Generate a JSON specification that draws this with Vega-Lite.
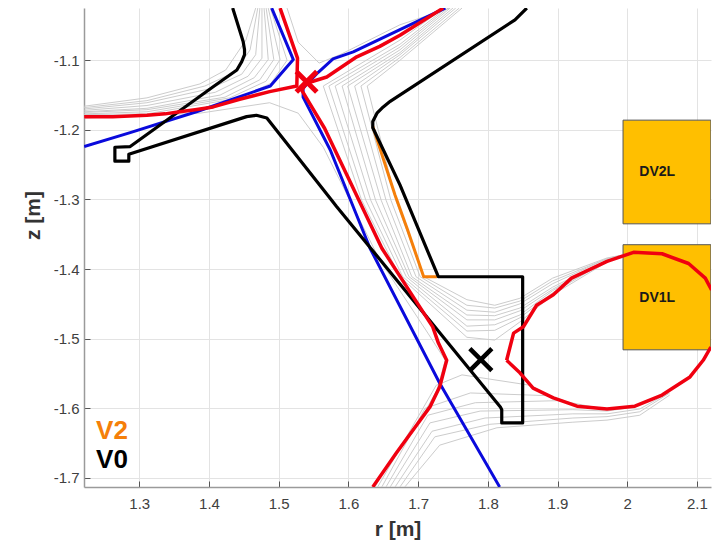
{"$schema":"https://vega.github.io/schema/vega-lite/v6.json","width":627,"height":479,"autosize":{"type":"none"},"padding":{"left":84,"top":8,"right":4,"bottom":57},"background":"white","config":{"view":{"stroke":null},"font":"Liberation Sans"},
"datasets":{
"coils":[{"name":"DV2L","r1":1.994,"r2":2.12,"z1":-1.186,"z2":-1.335,"rt":2.043,"zt":-1.26},{"name":"DV1L","r1":1.994,"r2":2.12,"z1":-1.365,"z2":-1.516,"rt":2.043,"zt":-1.442}],
"grey":[
{"s":"A1","i":1,"r":1.221,"z":-1.166},{"s":"A1","i":2,"r":1.311,"z":-1.154},{"s":"A1","i":3,"r":1.387,"z":-1.134},{"s":"A1","i":4,"r":1.424,"z":-1.114},{"s":"A1","i":5,"r":1.453,"z":-1.071},{"s":"A1","i":6,"r":1.467,"z":-1.025},
{"s":"A2","i":1,"r":1.221,"z":-1.168},{"s":"A2","i":2,"r":1.311,"z":-1.158},{"s":"A2","i":3,"r":1.394,"z":-1.137},{"s":"A2","i":4,"r":1.437,"z":-1.117},{"s":"A2","i":5,"r":1.459,"z":-1.085},{"s":"A2","i":6,"r":1.47,"z":-1.025},
{"s":"A3","i":1,"r":1.221,"z":-1.17},{"s":"A3","i":2,"r":1.311,"z":-1.161},{"s":"A3","i":3,"r":1.401,"z":-1.141},{"s":"A3","i":4,"r":1.447,"z":-1.12},{"s":"A3","i":5,"r":1.467,"z":-1.092},{"s":"A3","i":6,"r":1.473,"z":-1.025},
{"s":"A4","i":1,"r":1.221,"z":-1.172},{"s":"A4","i":2,"r":1.311,"z":-1.165},{"s":"A4","i":3,"r":1.409,"z":-1.146},{"s":"A4","i":4,"r":1.456,"z":-1.123},{"s":"A4","i":5,"r":1.476,"z":-1.097},{"s":"A4","i":6,"r":1.476,"z":-1.025},
{"s":"A5","i":1,"r":1.221,"z":-1.174},{"s":"A5","i":2,"r":1.311,"z":-1.169},{"s":"A5","i":3,"r":1.416,"z":-1.15},{"s":"A5","i":4,"r":1.465,"z":-1.125},{"s":"A5","i":5,"r":1.485,"z":-1.099},{"s":"A5","i":6,"r":1.479,"z":-1.025},
{"s":"A6","i":1,"r":1.221,"z":-1.175},{"s":"A6","i":2,"r":1.311,"z":-1.171},{"s":"A6","i":3,"r":1.423,"z":-1.153},{"s":"A6","i":4,"r":1.473,"z":-1.128},{"s":"A6","i":5,"r":1.493,"z":-1.099},{"s":"A6","i":6,"r":1.482,"z":-1.025},
{"s":"A7","i":1,"r":1.221,"z":-1.177},{"s":"A7","i":2,"r":1.311,"z":-1.174},{"s":"A7","i":3,"r":1.43,"z":-1.154},{"s":"A7","i":4,"r":1.482,"z":-1.13},{"s":"A7","i":5,"r":1.502,"z":-1.099},{"s":"A7","i":6,"r":1.485,"z":-1.025},
{"s":"A8","i":1,"r":1.221,"z":-1.178},{"s":"A8","i":2,"r":1.311,"z":-1.177},{"s":"A8","i":3,"r":1.444,"z":-1.154},{"s":"A8","i":4,"r":1.489,"z":-1.133},{"s":"A8","i":5,"r":1.512,"z":-1.1},{"s":"A8","i":6,"r":1.488,"z":-1.025},
{"s":"B1","i":1,"r":1.763,"z":-1.025},{"s":"B1","i":2,"r":1.674,"z":-1.1},{"s":"B1","i":3,"r":1.627,"z":-1.137},{"s":"B1","i":4,"r":1.668,"z":-1.301},{"s":"B1","i":5,"r":1.708,"z":-1.411},{"s":"B1","i":6,"r":1.77,"z":-1.444},{"s":"B1","i":7,"r":1.81,"z":-1.452},{"s":"B1","i":8,"r":1.846,"z":-1.442},{"s":"B1","i":9,"r":1.893,"z":-1.413},{"s":"B1","i":10,"r":1.971,"z":-1.384},{"s":"B1","i":11,"r":2.008,"z":-1.377},
{"s":"B2","i":1,"r":1.759,"z":-1.025},{"s":"B2","i":2,"r":1.674,"z":-1.096},{"s":"B2","i":3,"r":1.618,"z":-1.137},{"s":"B2","i":4,"r":1.661,"z":-1.301},{"s":"B2","i":5,"r":1.703,"z":-1.411},{"s":"B2","i":6,"r":1.77,"z":-1.452},{"s":"B2","i":7,"r":1.81,"z":-1.456},{"s":"B2","i":8,"r":1.846,"z":-1.446},{"s":"B2","i":9,"r":1.893,"z":-1.417},{"s":"B2","i":10,"r":1.971,"z":-1.385},{"s":"B2","i":11,"r":2.008,"z":-1.377},
{"s":"B3","i":1,"r":1.754,"z":-1.025},{"s":"B3","i":2,"r":1.674,"z":-1.092},{"s":"B3","i":3,"r":1.609,"z":-1.137},{"s":"B3","i":4,"r":1.654,"z":-1.301},{"s":"B3","i":5,"r":1.697,"z":-1.411},{"s":"B3","i":6,"r":1.77,"z":-1.459},{"s":"B3","i":7,"r":1.81,"z":-1.462},{"s":"B3","i":8,"r":1.846,"z":-1.45},{"s":"B3","i":9,"r":1.893,"z":-1.421},{"s":"B3","i":10,"r":1.971,"z":-1.385},{"s":"B3","i":11,"r":2.008,"z":-1.377},
{"s":"B4","i":1,"r":1.75,"z":-1.025},{"s":"B4","i":2,"r":1.674,"z":-1.089},{"s":"B4","i":3,"r":1.599,"z":-1.137},{"s":"B4","i":4,"r":1.647,"z":-1.301},{"s":"B4","i":5,"r":1.691,"z":-1.411},{"s":"B4","i":6,"r":1.77,"z":-1.466},{"s":"B4","i":7,"r":1.81,"z":-1.467},{"s":"B4","i":8,"r":1.846,"z":-1.456},{"s":"B4","i":9,"r":1.893,"z":-1.426},{"s":"B4","i":10,"r":1.971,"z":-1.387},{"s":"B4","i":11,"r":2.008,"z":-1.377},
{"s":"B5","i":1,"r":1.746,"z":-1.025},{"s":"B5","i":2,"r":1.674,"z":-1.085},{"s":"B5","i":3,"r":1.591,"z":-1.137},{"s":"B5","i":4,"r":1.639,"z":-1.301},{"s":"B5","i":5,"r":1.687,"z":-1.411},{"s":"B5","i":6,"r":1.77,"z":-1.473},{"s":"B5","i":7,"r":1.81,"z":-1.473},{"s":"B5","i":8,"r":1.846,"z":-1.46},{"s":"B5","i":9,"r":1.893,"z":-1.429},{"s":"B5","i":10,"r":1.971,"z":-1.387},{"s":"B5","i":11,"r":2.008,"z":-1.377},
{"s":"B6","i":1,"r":1.743,"z":-1.025},{"s":"B6","i":2,"r":1.674,"z":-1.081},{"s":"B6","i":3,"r":1.581,"z":-1.137},{"s":"B6","i":4,"r":1.632,"z":-1.301},{"s":"B6","i":5,"r":1.683,"z":-1.411},{"s":"B6","i":6,"r":1.77,"z":-1.482},{"s":"B6","i":7,"r":1.81,"z":-1.48},{"s":"B6","i":8,"r":1.846,"z":-1.466},{"s":"B6","i":9,"r":1.893,"z":-1.431},{"s":"B6","i":10,"r":1.971,"z":-1.388},{"s":"B6","i":11,"r":2.008,"z":-1.377},
{"s":"B7","i":1,"r":1.74,"z":-1.025},{"s":"B7","i":2,"r":1.674,"z":-1.077},{"s":"B7","i":3,"r":1.572,"z":-1.137},{"s":"B7","i":4,"r":1.625,"z":-1.301},{"s":"B7","i":5,"r":1.678,"z":-1.411},{"s":"B7","i":6,"r":1.77,"z":-1.489},{"s":"B7","i":7,"r":1.81,"z":-1.488},{"s":"B7","i":8,"r":1.846,"z":-1.47},{"s":"B7","i":9,"r":1.893,"z":-1.434},{"s":"B7","i":10,"r":1.971,"z":-1.388},{"s":"B7","i":11,"r":2.008,"z":-1.377},
{"s":"B8","i":1,"r":1.737,"z":-1.025},{"s":"B8","i":2,"r":1.674,"z":-1.071},{"s":"B8","i":3,"r":1.564,"z":-1.137},{"s":"B8","i":4,"r":1.619,"z":-1.301},{"s":"B8","i":5,"r":1.674,"z":-1.411},{"s":"B8","i":6,"r":1.77,"z":-1.498},{"s":"B8","i":7,"r":1.81,"z":-1.502},{"s":"B8","i":8,"r":1.846,"z":-1.476},{"s":"B8","i":9,"r":1.893,"z":-1.437},{"s":"B8","i":10,"r":1.971,"z":-1.39},{"s":"B8","i":11,"r":2.008,"z":-1.377},
{"s":"C7","i":1,"r":1.681,"z":-1.713},{"s":"C7","i":2,"r":1.731,"z":-1.653},{"s":"C7","i":3,"r":1.813,"z":-1.628},{"s":"C7","i":4,"r":1.922,"z":-1.62},{"s":"C7","i":5,"r":1.971,"z":-1.617},{"s":"C7","i":6,"r":2.018,"z":-1.61},{"s":"C7","i":7,"r":2.061,"z":-1.581},
{"s":"C6","i":1,"r":1.674,"z":-1.713},{"s":"C6","i":2,"r":1.724,"z":-1.641},{"s":"C6","i":3,"r":1.803,"z":-1.623},{"s":"C6","i":4,"r":1.922,"z":-1.614},{"s":"C6","i":5,"r":1.971,"z":-1.612},{"s":"C6","i":6,"r":2.018,"z":-1.605},{"s":"C6","i":7,"r":2.061,"z":-1.578},
{"s":"C5","i":1,"r":1.667,"z":-1.713},{"s":"C5","i":2,"r":1.72,"z":-1.633},{"s":"C5","i":3,"r":1.796,"z":-1.614},{"s":"C5","i":4,"r":1.922,"z":-1.608},{"s":"C5","i":5,"r":1.971,"z":-1.608},{"s":"C5","i":6,"r":2.018,"z":-1.601},{"s":"C5","i":7,"r":2.059,"z":-1.578},
{"s":"C4","i":1,"r":1.66,"z":-1.713},{"s":"C4","i":2,"r":1.717,"z":-1.621},{"s":"C4","i":3,"r":1.789,"z":-1.604},{"s":"C4","i":4,"r":1.922,"z":-1.602},{"s":"C4","i":5,"r":1.971,"z":-1.604},{"s":"C4","i":6,"r":2.011,"z":-1.598},{"s":"C4","i":7,"r":2.054,"z":-1.579},
{"s":"C3","i":1,"r":1.654,"z":-1.713},{"s":"C3","i":2,"r":1.714,"z":-1.61},{"s":"C3","i":3,"r":1.782,"z":-1.592},{"s":"C3","i":4,"r":1.904,"z":-1.589},{"s":"C3","i":5,"r":1.971,"z":-1.602},{"s":"C3","i":6,"r":2.011,"z":-1.597},
{"s":"C2","i":1,"r":1.648,"z":-1.713},{"s":"C2","i":2,"r":1.71,"z":-1.6},{"s":"C2","i":3,"r":1.775,"z":-1.578},{"s":"C2","i":4,"r":1.889,"z":-1.582},{"s":"C2","i":5,"r":1.932,"z":-1.597},{"s":"C2","i":6,"r":1.971,"z":-1.601},
{"s":"C1","i":1,"r":1.642,"z":-1.713},{"s":"C1","i":2,"r":1.726,"z":-1.567},{"s":"C1","i":3,"r":1.763,"z":-1.552},{"s":"C1","i":4,"r":1.861,"z":-1.567},{"s":"C1","i":5,"r":1.904,"z":-1.59},
{"s":"D","i":1,"r":1.221,"z":-1.183},{"s":"D","i":2,"r":1.387,"z":-1.176},{"s":"D","i":3,"r":1.487,"z":-1.161},{"s":"D","i":4,"r":1.528,"z":-1.176},{"s":"D","i":5,"r":1.564,"z":-1.225},{"s":"D","i":6,"r":1.645,"z":-1.387},{"s":"D","i":7,"r":1.714,"z":-1.492},{"s":"D","i":8,"r":1.739,"z":-1.531},{"s":"D","i":9,"r":1.727,"z":-1.574},{"s":"D","i":10,"r":1.703,"z":-1.617},{"s":"D","i":11,"r":1.652,"z":-1.689},{"s":"D","i":12,"r":1.638,"z":-1.713},
{"s":"E","i":1,"r":1.512,"z":-1.025},{"s":"E","i":2,"r":1.528,"z":-1.074},{"s":"E","i":3,"r":1.558,"z":-1.104},{"s":"E","i":4,"r":1.588,"z":-1.092},{"s":"E","i":5,"r":1.674,"z":-1.049},{"s":"E","i":6,"r":1.746,"z":-1.025}
],
"blue":[
{"s":"b1","i":1,"r":1.221,"z":-1.224},{"s":"b1","i":2,"r":1.287,"z":-1.204},{"s":"b1","i":3,"r":1.382,"z":-1.174},{"s":"b1","i":4,"r":1.488,"z":-1.137},{"s":"b1","i":5,"r":1.521,"z":-1.099},{"s":"b1","i":6,"r":1.49,"z":-1.025},
{"s":"b2","i":1,"r":1.739,"z":-1.025},{"s":"b2","i":2,"r":1.674,"z":-1.056},{"s":"b2","i":3,"r":1.607,"z":-1.088},{"s":"b2","i":4,"r":1.578,"z":-1.098},{"s":"b2","i":5,"r":1.556,"z":-1.118},{"s":"b2","i":6,"r":1.535,"z":-1.14},{"s":"b2","i":7,"r":1.535,"z":-1.153},{"s":"b2","i":8,"r":1.574,"z":-1.229},{"s":"b2","i":9,"r":1.631,"z":-1.37},{"s":"b2","i":10,"r":1.731,"z":-1.564},{"s":"b2","i":11,"r":1.817,"z":-1.713}
],
"orange":[{"s":"o","i":1,"r":1.635,"z":-1.195},{"s":"o","i":2,"r":1.667,"z":-1.294},{"s":"o","i":3,"r":1.685,"z":-1.344},{"s":"o","i":4,"r":1.708,"z":-1.411},{"s":"o","i":5,"r":1.727,"z":-1.411}],
"black":[
{"i":1,"r":1.434,"z":-1.025},{"i":2,"r":1.449,"z":-1.073},{"i":3,"r":1.451,"z":-1.085},{"i":4,"r":1.451,"z":-1.092},{"i":5,"r":1.447,"z":-1.102},{"i":6,"r":1.44,"z":-1.114},{"i":7,"r":1.406,"z":-1.138},{"i":8,"r":1.287,"z":-1.224},{"i":9,"r":1.265,"z":-1.225},{"i":10,"r":1.265,"z":-1.245},{"i":11,"r":1.285,"z":-1.245},{"i":12,"r":1.285,"z":-1.235},{"i":13,"r":1.454,"z":-1.181},{"i":14,"r":1.468,"z":-1.179},{"i":15,"r":1.483,"z":-1.183},{"i":16,"r":1.576,"z":-1.301},{"i":17,"r":1.583,"z":-1.31},{"i":18,"r":1.818,"z":-1.598},{"i":19,"r":1.82,"z":-1.602},{"i":20,"r":1.82,"z":-1.621},{"i":21,"r":1.85,"z":-1.621},{"i":22,"r":1.85,"z":-1.411},{"i":23,"r":1.729,"z":-1.411},{"i":24,"r":1.674,"z":-1.279},{"i":25,"r":1.635,"z":-1.197},{"i":26,"r":1.635,"z":-1.188},{"i":27,"r":1.641,"z":-1.176},{"i":28,"r":1.65,"z":-1.167},{"i":29,"r":1.66,"z":-1.159},{"i":30,"r":1.839,"z":-1.042},{"i":31,"r":1.856,"z":-1.025}
],
"red":[
{"s":"r1","i":1,"r":1.221,"z":-1.181},{"s":"r1","i":2,"r":1.262,"z":-1.181},{"s":"r1","i":3,"r":1.311,"z":-1.179},{"s":"r1","i":4,"r":1.337,"z":-1.177},{"s":"r1","i":5,"r":1.358,"z":-1.174},{"s":"r1","i":6,"r":1.38,"z":-1.171},{"s":"r1","i":7,"r":1.406,"z":-1.167},{"s":"r1","i":8,"r":1.444,"z":-1.156},{"s":"r1","i":9,"r":1.487,"z":-1.145},{"s":"r1","i":10,"r":1.526,"z":-1.137},{"s":"r1","i":11,"r":1.527,"z":-1.097},{"s":"r1","i":12,"r":1.502,"z":-1.025},
{"s":"r2","i":1,"r":1.736,"z":-1.025},{"s":"r2","i":2,"r":1.674,"z":-1.064},{"s":"r2","i":3,"r":1.645,"z":-1.08},{"s":"r2","i":4,"r":1.612,"z":-1.095},{"s":"r2","i":5,"r":1.569,"z":-1.124},{"s":"r2","i":6,"r":1.54,"z":-1.133},{"s":"r2","i":7,"r":1.533,"z":-1.143},{"s":"r2","i":8,"r":1.566,"z":-1.198},{"s":"r2","i":9,"r":1.648,"z":-1.37},{"s":"r2","i":10,"r":1.693,"z":-1.44},{"s":"r2","i":11,"r":1.721,"z":-1.483},{"s":"r2","i":12,"r":1.729,"z":-1.506},{"s":"r2","i":13,"r":1.741,"z":-1.531},{"s":"r2","i":14,"r":1.731,"z":-1.569},{"s":"r2","i":15,"r":1.717,"z":-1.598},{"s":"r2","i":16,"r":1.698,"z":-1.624},{"s":"r2","i":17,"r":1.669,"z":-1.664},{"s":"r2","i":18,"r":1.635,"z":-1.713},
{"s":"r3","i":1,"r":1.827,"z":-1.531},{"s":"r3","i":2,"r":1.837,"z":-1.492},{"s":"r3","i":3,"r":1.851,"z":-1.483},{"s":"r3","i":4,"r":1.87,"z":-1.452},{"s":"r3","i":5,"r":1.894,"z":-1.437},{"s":"r3","i":6,"r":1.92,"z":-1.413},{"s":"r3","i":7,"r":1.971,"z":-1.389},{"s":"r3","i":8,"r":2.009,"z":-1.376},{"s":"r3","i":9,"r":2.05,"z":-1.378},{"s":"r3","i":10,"r":2.088,"z":-1.392},{"s":"r3","i":11,"r":2.112,"z":-1.413},{"s":"r3","i":12,"r":2.121,"z":-1.43},
{"s":"r4","i":1,"r":2.12,"z":-1.512},{"s":"r4","i":2,"r":2.109,"z":-1.531},{"s":"r4","i":3,"r":2.09,"z":-1.555},{"s":"r4","i":4,"r":2.05,"z":-1.581},{"s":"r4","i":5,"r":2.011,"z":-1.597},{"s":"r4","i":6,"r":1.971,"z":-1.601},{"s":"r4","i":7,"r":1.928,"z":-1.597},{"s":"r4","i":8,"r":1.894,"z":-1.585},{"s":"r4","i":9,"r":1.865,"z":-1.571},{"s":"r4","i":10,"r":1.846,"z":-1.549},{"s":"r4","i":11,"r":1.827,"z":-1.531}
]},
"encoding":{
"x":{"field":"r","type":"quantitative","scale":{"domain":[1.2207,2.1202],"nice":false,"zero":false},"axis":{"title":"r [m]","values":[1.3,1.4,1.5,1.6,1.7,1.8,1.9,2,2.1],"labelExpr":"datum.value==2?'2':format(datum.value,'.1f')","grid":true,"gridColor":"#e3e3e3","gridWidth":1,"domainColor":"#9a9a9a","domainWidth":1.5,"tickColor":"#555555","tickSize":-6,"tickWidth":1,"labelColor":"#404040","labelFont":"Liberation Sans","labelFontSize":15,"labelPadding":15,"titleFont":"Liberation Sans","titleFontSize":21,"titleFontWeight":"bold","titleColor":"#333333","titlePadding":7}},
"y":{"field":"z","type":"quantitative","scale":{"domain":[-1.7131,-1.0249],"nice":false,"zero":false},"axis":{"title":"z [m]","values":[-1.7,-1.6,-1.5,-1.4,-1.3,-1.2,-1.1],"labelExpr":"replace(format(datum.value,'.1f'),'−','-')","grid":true,"gridColor":"#e3e3e3","gridWidth":1,"domainColor":"#9a9a9a","domainWidth":1.5,"tickColor":"#555555","tickSize":-6,"tickWidth":1,"labelColor":"#404040","labelFont":"Liberation Sans","labelFontSize":15,"labelPadding":11,"titleFont":"Liberation Sans","titleFontSize":21,"titleFontWeight":"bold","titleColor":"#333333","titlePadding":10,"titleY":207}}
},
"layer":[
{"data":{"name":"coils"},"mark":{"type":"rect","fill":"#FFBF00","stroke":"#555555","strokeWidth":1,"clip":true},"encoding":{"x":{"field":"r1","type":"quantitative"},"x2":{"field":"r2"},"y":{"field":"z1","type":"quantitative"},"y2":{"field":"z2"}}},
{"data":{"name":"grey"},"mark":{"type":"line","stroke":"#cccccc","strokeWidth":1,"clip":true},"encoding":{"detail":{"field":"s"},"order":{"field":"i","type":"quantitative"}}},
{"data":{"name":"blue"},"mark":{"type":"line","stroke":"#0a0adc","strokeWidth":3,"strokeJoin":"round","clip":true},"encoding":{"detail":{"field":"s"},"order":{"field":"i","type":"quantitative"}}},
{"data":{"name":"orange"},"mark":{"type":"line","stroke":"#F57F0A","strokeWidth":3,"strokeJoin":"round","clip":true},"encoding":{"detail":{"field":"s"},"order":{"field":"i","type":"quantitative"}}},
{"data":{"name":"black"},"mark":{"type":"line","stroke":"#000000","strokeWidth":3.2,"strokeJoin":"round","clip":true},"encoding":{"order":{"field":"i","type":"quantitative"}}},
{"data":{"name":"red"},"mark":{"type":"line","stroke":"#f00010","strokeWidth":3.5,"strokeJoin":"round","clip":true},"encoding":{"detail":{"field":"s"},"order":{"field":"i","type":"quantitative"}}},
{"data":{"values":[{"r":1.54,"z":-1.131}]},"mark":{"type":"point","shape":"M-1,-1L1,1M-1,1L1,-1","filled":false,"size":420,"stroke":"#f00010","strokeWidth":5,"opacity":1}},
{"data":{"values":[{"r":1.79,"z":-1.53}]},"mark":{"type":"point","shape":"M-1,-1L1,1M-1,1L1,-1","filled":false,"size":484,"stroke":"#000000","strokeWidth":4.5,"opacity":1}},
{"data":{"name":"coils"},"mark":{"type":"text","fontWeight":"bold","fontSize":14,"font":"Liberation Sans","color":"#1a1a1a"},"encoding":{"x":{"field":"rt","type":"quantitative"},"y":{"field":"zt","type":"quantitative"},"text":{"field":"name"}}},
{"data":{"values":[{"t":"V2","r":1.238,"z":-1.633}]},"mark":{"type":"text","align":"left","baseline":"middle","fontWeight":"bold","fontSize":26,"font":"Liberation Sans","color":"#F57F0A"},"encoding":{"text":{"field":"t"}}},
{"data":{"values":[{"t":"V0","r":1.238,"z":-1.675}]},"mark":{"type":"text","align":"left","baseline":"middle","fontWeight":"bold","fontSize":26,"font":"Liberation Sans","color":"#000000"},"encoding":{"text":{"field":"t"}}}
]}
